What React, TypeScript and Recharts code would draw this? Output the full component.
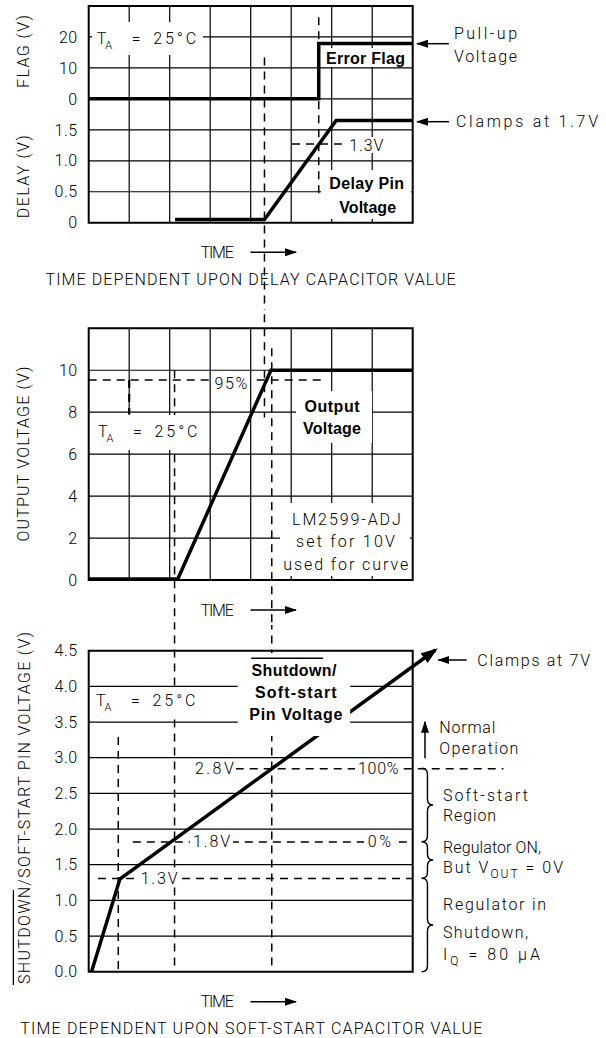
import React from "react";
import { ComposedChart, Line, XAxis, YAxis, ReferenceLine, ReferenceArea } from "recharts";

const FONT = "Roboto, 'DejaVu Sans Condensed', sans-serif";
const BOLD = "'Liberation Sans', Arial, sans-serif";

// time runs in grid divisions, 8 per panel
const timeTicks = [0, 1, 2, 3, 4, 5, 6, 7, 8];

// top panel: delay pin and error flag
const delayTicks = [0, 0.5, 1.0, 1.5];
const flagTicks = [0, 10, 20];
const delayTime = [2.13, 4.34, 6.11, 8];
const delayVolts = [0.05, 0.05, 1.65, 1.65];
const flagTime = [0, 5.68, 5.68, 8];
const flagVolts = [0, 0, 17.9, 17.9];

// middle panel: output voltage
const outTicks = [0, 2, 4, 6, 8, 10];
const outTime = [0, 2.2, 4.5, 8];
const outVolts = [0.05, 0.05, 10, 10];

// bottom panel: shutdown / soft-start pin
const ssTicks = [0, 0.5, 1.0, 1.5, 2.0, 2.5, 3.0, 3.5, 4.0, 4.5];
const ssTime = [0.07, 0.77, 8.56];
const ssVolts = [0, 1.3, 4.51];

// dashed marker positions (time in divisions, level in volts)
const flagEdge = 5.68;
const delayRise = 4.34;
const outRise = 2.12;
const outTop = 4.52;
const ssKnee = 0.73;
const delayLevel = 1.27;
const outLevel = 9.54;
const ssFull = 2.845;
const ssZero = 1.82;
const ssOn = 1.306;

const zip = (t: number[], v: number[]) => t.map((x, i) => ({ t: x, v: v[i] }));

const tickStyle = { fontSize: 16, fill: "#000", fontFamily: FONT, fontWeight: 300, letterSpacing: 0.5 };
const dash = { stroke: "#000", strokeWidth: 1.5, strokeDasharray: "8 6" };
const gridStroke = { stroke: "#000", strokeWidth: 1.2 };
const lineProps = {
  type: "linear" as const,
  stroke: "#000",
  strokeWidth: 3.5,
  dot: false,
  activeDot: false,
  isAnimationActive: false,
  strokeLinejoin: "miter" as const,
};

const one = (v: number) => (v === 0 ? "0" : v.toFixed(1));
const inner = (ticks: number[]) => ticks.slice(1, -1);

function TopPanel() {
  return (
    <ComposedChart width={606} height={310} margin={{ top: 6, right: 193.3, bottom: 87.3, left: 28.7 }}>
      <XAxis type="number" dataKey="t" domain={[0, 8]} ticks={timeTicks} height={0} tick={false} axisLine={false} tickLine={false} />
      <YAxis yAxisId="delay" width={60} domain={[0, 3.5]} ticks={delayTicks} interval={0} tickFormatter={one} axisLine={false} tickLine={false} tickSize={0} tickMargin={11} tick={tickStyle} />
      <YAxis yAxisId="flag" hide domain={[-40, 30]} />
      {inner(timeTicks).map((t) => (
        <ReferenceLine key={t} yAxisId="delay" x={t} {...gridStroke} />
      ))}
      {delayTicks.slice(1).map((v) => (
        <ReferenceLine key={v} yAxisId="delay" y={v} {...gridStroke} />
      ))}
      {flagTicks.map((v) => (
        <ReferenceLine
          key={v}
          yAxisId="flag"
          y={v}
          {...gridStroke}
          label={{ value: String(v), position: "left", offset: 11, fill: "#000", fontSize: 16, fontFamily: FONT, fontWeight: 300, letterSpacing: 0.5 }}
        />
      ))}
      <ReferenceArea yAxisId="delay" x1={0} x2={8} y1={0} y2={3.5} fill="none" stroke="#000" strokeWidth={2} />
      <ReferenceLine yAxisId="delay" segment={[{ x: flagEdge, y: 0.475 }, { x: flagEdge, y: 3.38 }]} {...dash} />
      <ReferenceLine yAxisId="delay" segment={[{ x: delayRise, y: 2.67 }, { x: delayRise, y: -3 }]} ifOverflow="visible" {...dash} />
      <ReferenceLine yAxisId="delay" segment={[{ x: 5.02, y: delayLevel }, { x: 6.25, y: delayLevel }]} {...dash} />
      <Line yAxisId="delay" data={zip(delayTime, delayVolts)} dataKey="v" {...lineProps} />
      <Line yAxisId="flag" data={zip(flagTime, flagVolts)} dataKey="v" {...lineProps} />
    </ComposedChart>
  );
}

function MiddlePanel() {
  return (
    <ComposedChart width={606} height={315} margin={{ top: 18.3, right: 193.3, bottom: 45, left: 28.7 }}>
      <XAxis type="number" dataKey="t" domain={[0, 8]} ticks={timeTicks} height={0} tick={false} axisLine={false} tickLine={false} />
      <YAxis width={60} domain={[0, 12]} ticks={outTicks} interval={0} axisLine={false} tickLine={false} tickSize={0} tickMargin={11} tick={tickStyle} />
      {inner(timeTicks).map((t) => (
        <ReferenceLine key={t} x={t} {...gridStroke} />
      ))}
      {outTicks.slice(1).map((v) => (
        <ReferenceLine key={v} y={v} {...gridStroke} />
      ))}
      <ReferenceArea x1={0} x2={8} y1={0} y2={12} fill="none" stroke="#000" strokeWidth={2} />
      <ReferenceLine segment={[{ x: 0, y: outLevel }, { x: 5.76, y: outLevel }]} {...dash} />
      <ReferenceLine segment={[{ x: delayRise, y: 14 }, { x: delayRise, y: 7.75 }]} ifOverflow="visible" {...dash} />
      <ReferenceLine segment={[{ x: outTop, y: 11.05 }, { x: outTop, y: -6 }]} ifOverflow="visible" {...dash} />
      <ReferenceLine segment={[{ x: outRise, y: 10 }, { x: outRise, y: -6 }]} ifOverflow="visible" {...dash} />
      <ReferenceLine segment={[{ x: 1, y: outLevel }, { x: 1, y: 7.9 }]} {...dash} strokeWidth={2.2} />
      <Line data={zip(outTime, outVolts)} dataKey="v" {...lineProps} />
    </ComposedChart>
  );
}

function BottomPanel() {
  return (
    <ComposedChart width={606} height={413} margin={{ top: 25, right: 169, bottom: 66.3, left: 28.7 }}>
      <defs>
        <marker id="curveHead" markerUnits="userSpaceOnUse" markerWidth={18} markerHeight={12} refX={14} refY={6} orient="auto">
          <path d="M0,0 L17,6 L0,12 z" fill="#000" />
        </marker>
      </defs>
      <XAxis type="number" dataKey="t" domain={[0, 8.6]} height={0} tick={false} axisLine={false} tickLine={false} />
      <YAxis width={60} domain={[0, 4.5]} ticks={ssTicks} interval={0} tickFormatter={(v: number) => v.toFixed(1)} axisLine={false} tickLine={false} tickSize={0} tickMargin={11} tick={tickStyle} />
      {inner(ssTicks).map((v) => (
        <ReferenceLine key={v} segment={[{ x: 0, y: v }, { x: 8, y: v }]} {...gridStroke} />
      ))}
      <ReferenceArea x1={0} x2={8} y1={0} y2={4.5} fill="none" stroke="#000" strokeWidth={2} />
      <ReferenceLine segment={[{ x: outRise, y: 5.5 }, { x: outRise, y: 0 }]} ifOverflow="visible" {...dash} />
      <ReferenceLine segment={[{ x: outTop, y: 5.5 }, { x: outTop, y: 0 }]} ifOverflow="visible" {...dash} />
      <ReferenceLine segment={[{ x: ssKnee, y: 3.29 }, { x: ssKnee, y: 0 }]} {...dash} />
      <ReferenceLine segment={[{ x: 3.63, y: ssFull }, { x: 10.24, y: ssFull }]} ifOverflow="visible" {...dash} />
      <ReferenceLine segment={[{ x: 1.09, y: ssZero }, { x: 8, y: ssZero }]} {...dash} />
      <ReferenceLine segment={[{ x: 0.23, y: ssOn }, { x: 8, y: ssOn }]} {...dash} />
      <Line data={zip(ssTime, ssVolts)} dataKey="v" {...lineProps} markerEnd="url(#curveHead)" />
    </ComposedChart>
  );
}

type TxtProps = { x: number; y: number; w?: number; anchor?: "start" | "middle" | "end"; bold?: boolean; size?: number; children: React.ReactNode };
function Txt({ x, y, w, anchor = "start", bold = false, size = 16, children }: TxtProps) {
  return (
    <text x={x} y={y} textLength={w} lengthAdjust="spacing" textAnchor={anchor} fontFamily={bold ? BOLD : FONT} fontWeight={bold ? 700 : 300} fontSize={size} fill="#000">
      {children}
    </text>
  );
}

function VLabel({ x, y, w, children }: { x: number; y: number; w: number; children: React.ReactNode }) {
  return (
    <text x={x} y={y} transform={`rotate(-90 ${x} ${y})`} textAnchor="middle" textLength={w} lengthAdjust="spacing" fontFamily={FONT} fontWeight={300} fontSize={16} fill="#000">
      {children}
    </text>
  );
}

const Box = ({ x, y, w, h }: { x: number; y: number; w: number; h: number }) => <rect x={x} y={y} width={w} height={h} fill="#fff" />;

function TA({ x, y }: { x: number; y: number }) {
  return (
    <text y={y} fontFamily={FONT} fontWeight={300} fontSize={16} fill="#000">
      <tspan x={x}>T</tspan>
      <tspan x={x + 8.5} dy={5} fontSize={11}>A</tspan>
      <tspan x={x + 35} dy={-5}>=</tspan>
      <tspan x={x + 56.5} textLength={43} lengthAdjust="spacing">25°C</tspan>
    </text>
  );
}

const Arrow = ({ x1, y1, x2, y2 }: { x1: number; y1: number; x2: number; y2: number }) => (
  <line x1={x1} y1={y1} x2={x2} y2={y2} stroke="#000" strokeWidth={1.5} markerEnd="url(#noteHead)" />
);

function brace(x0: number, y1: number, y2: number, w = 11.5, r = 6) {
  const xm = x0 + w / 2;
  const ym = (y1 + y2) / 2;
  return `M${x0},${y1} Q${xm},${y1} ${xm},${y1 + r} L${xm},${ym - r} Q${xm},${ym} ${x0 + w},${ym} Q${xm},${ym} ${xm},${ym + r} L${xm},${y2 - r} Q${xm},${y2} ${x0},${y2}`;
}

function Notes() {
  return (
    <svg width={606} height={1038} style={{ position: "absolute", left: 0, top: 0, pointerEvents: "none" }}>
      <defs>
        <marker id="noteHead" markerUnits="userSpaceOnUse" markerWidth={12} markerHeight={8} refX={11} refY={4} orient="auto">
          <path d="M0,0 L12,4 L0,8 z" fill="#000" />
        </marker>
      </defs>

      {/* top panel */}
      <VLabel x={29} y={51.5} w={73}>FLAG (V)</VLabel>
      <VLabel x={29} y={176.7} w={83}>DELAY (V)</VLabel>
      <Box x={92} y={22} w={111} h={33} />
      <TA x={96.7} y={43.5} />
      <Box x={323} y={48} w={86} h={19} />
      <Txt x={365.5} y={63.7} w={79} anchor="middle" bold>Error Flag</Txt>
      <Box x={321} y={170} w={90} h={49} />
      <Txt x={366.7} y={189} w={74.7} anchor="middle" bold>Delay Pin</Txt>
      <Txt x={367.7} y={213} w={56.7} anchor="middle" bold>Voltage</Txt>
      <Box x={346} y={137} w={42} h={16} />
      <Txt x={349.3} y={150.5} w={34}>1.3V</Txt>
      <Txt x={454} y={38.5} w={63}>Pull-up</Txt>
      <Txt x={454} y={61.5} w={63}>Voltage</Txt>
      <Arrow x1={449} y1={43.7} x2={417} y2={43.7} />
      <Txt x={456} y={127} w={142}>Clamps at 1.7V</Txt>
      <Arrow x1={449} y1={121.7} x2={417} y2={121.7} />
      <Txt x={200.8} y={257.8} w={33}>TIME</Txt>
      <Arrow x1={250.5} y1={252.3} x2={296} y2={252.3} />
      <Txt x={45.6} y={285} w={410}>TIME DEPENDENT UPON DELAY CAPACITOR VALUE</Txt>

      {/* middle panel */}
      <VLabel x={29} y={454} w={175}>OUTPUT VOLTAGE (V)</VLabel>
      <Box x={212} y={374} w={38} h={15} />
      <Txt x={214.4} y={388.5} w={33}>95%</Txt>
      <Box x={90} y={415} w={118} h={35} />
      <TA x={98} y={437} />
      <Box x={296} y={391} w={76} h={52} />
      <Txt x={332} y={411.7} w={55} anchor="middle" bold>Output</Txt>
      <Txt x={332} y={434} w={58} anchor="middle" bold>Voltage</Txt>
      <Box x={280} y={503} w={130} h={73} />
      <Txt x={346.4} y={524.5} w={108.7} anchor="middle">LM2599-ADJ</Txt>
      <Txt x={345.4} y={547} w={99} anchor="middle">set for 10V</Txt>
      <Txt x={345.7} y={570} w={125} anchor="middle">used for curve</Txt>
      <Txt x={200.8} y={615.5} w={33}>TIME</Txt>
      <Arrow x1={250.5} y1={610} x2={296} y2={610} />

      {/* bottom panel */}
      <VLabel x={30} y={808} w={352}>SHUTDOWN/SOFT-START PIN VOLTAGE (V)</VLabel>
      <line x1={13.4} y1={985} x2={13.4} y2={890} stroke="#000" strokeWidth={1.3} />
      <Box x={237.7} y={653} w={112.5} h={83} />
      <line x1={251.2} y1={658.3} x2={323} y2={658.3} stroke="#000" strokeWidth={1.5} />
      <Txt x={294} y={675.7} w={85} anchor="middle" bold>Shutdown/</Txt>
      <Txt x={295.8} y={698} w={81.6} anchor="middle" bold>Soft-start</Txt>
      <Txt x={295.8} y={720} w={93} anchor="middle" bold>Pin Voltage</Txt>
      <Box x={93} y={688} w={103} h={30} />
      <TA x={96} y={706} />
      <Box x={192} y={761} w={44} h={15} />
      <Txt x={195} y={773.5} w={38.8}>2.8V</Txt>
      <Box x={355} y={761} w={46} h={15} />
      <Txt x={358} y={773.5} w={40.7}>100%</Txt>
      <Box x={190} y={834} w={43} h={15} />
      <Txt x={193} y={847} w={37}>1.8V</Txt>
      <Box x={364} y={834} w={30} h={15} />
      <Txt x={367.7} y={847} w={23.3}>0%</Txt>
      <Box x={137} y={871} w={44} h={15} />
      <Txt x={140.7} y={883.8} w={36.8}>1.3V</Txt>
      <Txt x={477.3} y={665.5} w={112.7}>Clamps at 7V</Txt>
      <Arrow x1={466.7} y1={660} x2={438.3} y2={660} />
      <Arrow x1={425} y1={758.3} x2={425} y2={721.7} />
      <Txt x={439.3} y={732.5} w={56}>Normal</Txt>
      <Txt x={439.3} y={754} w={79}>Operation</Txt>
      <g fill="none" stroke="#000" strokeWidth={1.4}>
        <path d={brace(421.7, 768.3, 841.7)} />
        <path d={brace(421.7, 841.7, 878.3)} />
        <path d={brace(421.7, 878.3, 971.7)} />
      </g>
      <Txt x={443} y={800.5} w={85}>Soft-start</Txt>
      <Txt x={443} y={821} w={53}>Region</Txt>
      <Txt x={443} y={853} w={98}>Regulator ON,</Txt>
      <Txt x={443} y={873} w={120}>
        But V<tspan dy={5} fontSize={12}>OUT</tspan><tspan dy={-5}> = 0V</tspan>
      </Txt>
      <Txt x={443} y={909.5} w={103}>Regulator in</Txt>
      <Txt x={443} y={937.5} w={85}>Shutdown,</Txt>
      <Txt x={443} y={959.5} w={97}>
        I<tspan dy={5} fontSize={12}>Q</tspan><tspan dy={-5}> = 80 μA</tspan>
      </Txt>
      <Txt x={200.8} y={1007.4} w={33}>TIME</Txt>
      <Arrow x1={250.5} y1={1001.7} x2={296} y2={1001.7} />
      <Txt x={20.3} y={1033.7} w={462}>TIME DEPENDENT UPON SOFT-START CAPACITOR VALUE</Txt>
    </svg>
  );
}

export default function App() {
  return (
    <div style={{ position: "absolute", left: 0, top: 0, width: 606, height: 1038, background: "#fff", overflow: "hidden" }}>
      <div style={{ position: "absolute", left: 0, top: 0 }}>
        <TopPanel />
      </div>
      <div style={{ position: "absolute", left: 0, top: 310 }}>
        <MiddlePanel />
      </div>
      <div style={{ position: "absolute", left: 0, top: 625 }}>
        <BottomPanel />
      </div>
      <Notes />
    </div>
  );
}
